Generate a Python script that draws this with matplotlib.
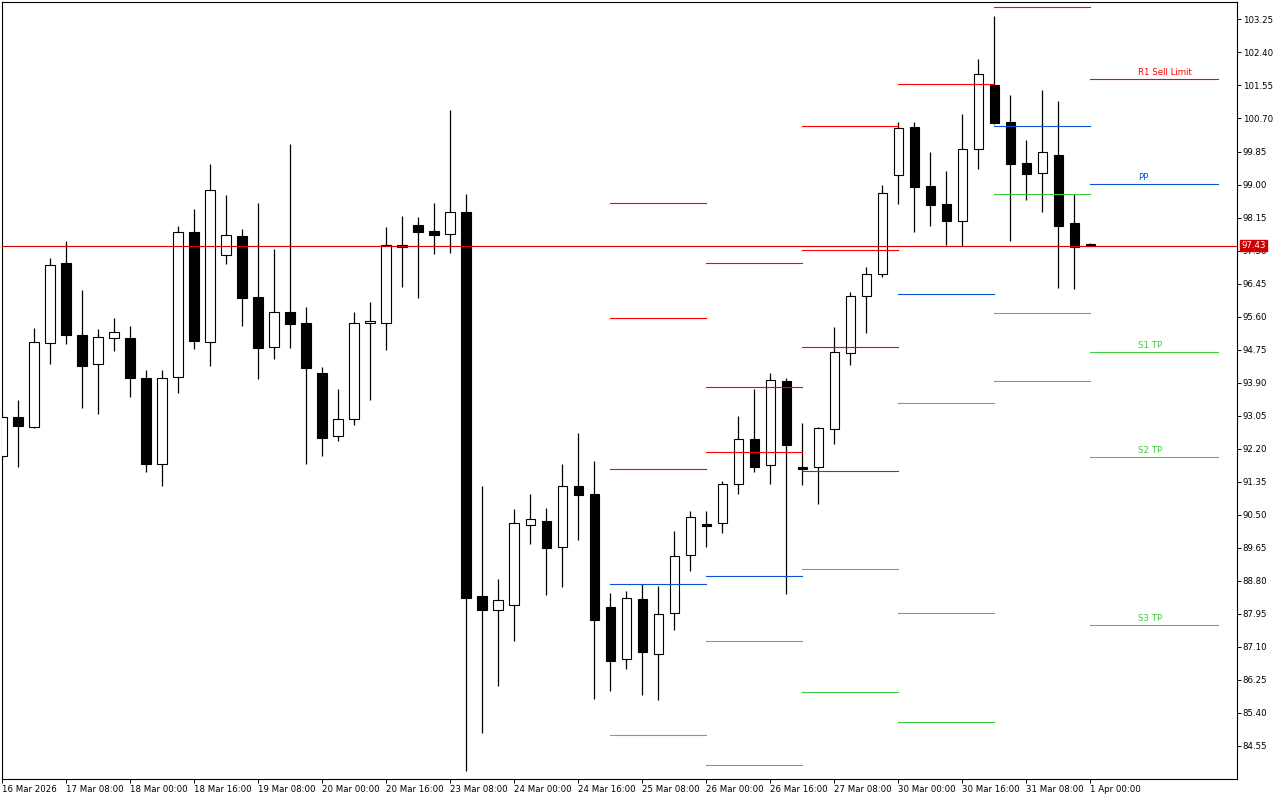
import matplotlib
matplotlib.use('Agg')
import matplotlib.pyplot as plt
from matplotlib.patches import Rectangle

# H4 bars, 16 Mar 16:00 ... 1 Apr 00:00
opens = [92.01, 93.01, 92.76, 94.92, 96.98, 95.13, 94.38, 95.05, 95.05, 94.02,
         91.80, 94.04, 97.78, 94.94, 97.18, 97.67, 96.10, 94.82, 95.72, 95.43,
         94.15, 92.53, 92.96, 95.43, 95.43, 97.44, 97.96, 97.80, 97.72, 98.29,
         88.41, 88.05, 88.17, 90.23, 90.34, 89.67, 91.24, 91.03, 88.12, 86.79,
         88.33, 86.91, 87.97, 89.46, 90.26, 90.29, 91.29, 92.45, 91.78, 93.94,
         91.73, 91.73, 92.71, 94.66, 96.13, 96.70, 99.24, 100.48, 98.96, 98.50,
         98.06, 99.91, 101.56, 100.61, 99.55, 99.29, 99.76, 98.01, 97.47]
highs = [93.14, 93.45, 95.30, 97.11, 97.54, 96.28, 95.28, 95.56, 95.36, 94.22,
         94.22, 97.93, 98.37, 99.53, 98.73, 97.85, 98.52, 97.34, 100.04, 95.85,
         94.30, 93.74, 95.72, 95.97, 97.91, 98.19, 98.16, 98.52, 100.92, 98.75,
         91.24, 88.84, 90.65, 91.03, 90.67, 91.80, 92.60, 91.88, 88.48, 88.54,
         88.72, 88.66, 90.08, 90.59, 90.59, 91.37, 93.04, 93.74, 94.15, 94.02,
         92.86, 92.76, 95.33, 96.23, 96.88, 98.99, 100.61, 100.61, 99.84, 99.35,
         100.81, 102.23, 103.34, 101.30, 100.14, 101.43, 101.15, 98.75, 97.50]
lows = [91.91, 91.73, 92.73, 94.38, 94.89, 93.25, 93.09, 94.71, 93.53, 91.60,
        91.24, 93.63, 94.76, 94.33, 96.95, 95.36, 93.99, 94.51, 94.79, 91.80,
        92.01, 92.40, 92.81, 93.45, 94.74, 96.36, 96.08, 97.21, 97.24, 83.90,
        84.88, 86.09, 87.25, 89.75, 88.43, 88.64, 89.85, 85.76, 85.96, 86.53,
        85.86, 85.73, 87.53, 89.05, 89.67, 90.03, 91.03, 91.60, 91.29, 88.46,
        91.26, 90.78, 92.32, 94.35, 95.18, 96.62, 98.50, 97.78, 97.93, 97.44,
        97.42, 99.40, 100.56, 97.54, 98.60, 98.29, 96.33, 96.31, 97.42]
closes = [93.01, 92.78, 94.94, 96.93, 95.13, 94.33, 95.07, 95.20, 94.02, 91.80,
          94.02, 97.78, 94.97, 98.86, 97.70, 96.08, 94.79, 95.72, 95.41, 94.28,
          92.47, 92.96, 95.43, 95.49, 97.44, 97.39, 97.78, 97.70, 98.29, 88.36,
          88.05, 88.30, 90.29, 90.39, 89.64, 91.24, 91.01, 87.79, 86.73, 88.36,
          86.97, 87.94, 89.44, 90.44, 90.21, 91.29, 92.45, 91.73, 93.97, 92.29,
          91.68, 92.73, 94.69, 96.13, 96.70, 98.78, 100.45, 98.94, 98.47, 98.06,
          99.91, 101.84, 100.58, 99.53, 99.27, 99.84, 97.93, 97.40, 97.43]

x_labels = ['16 Mar 2026', '17 Mar 08:00', '18 Mar 00:00', '18 Mar 16:00',
            '19 Mar 08:00', '20 Mar 00:00', '20 Mar 16:00', '23 Mar 08:00',
            '24 Mar 00:00', '24 Mar 16:00', '25 Mar 08:00', '26 Mar 00:00',
            '26 Mar 16:00', '27 Mar 08:00', '30 Mar 00:00', '30 Mar 16:00',
            '31 Mar 08:00', '1 Apr 00:00']
y_ticks = [84.55, 85.40, 86.25, 87.10, 87.95, 88.80, 89.65, 90.50, 91.35, 92.20,
           93.05, 93.90, 94.75, 95.60, 96.45, 97.30, 98.15, 99.00, 99.85, 100.70,
           101.55, 102.40, 103.25]

# first bar of each day that gets daily pivot lines (6 bars per day)
pivot_day_starts = [38, 44, 50, 56, 62, 68]
level_texts = {'R1': 'R1 Sell Limit', 'PP': 'PP', 'S1': 'S1 TP', 'S2': 'S2 TP', 'S3': 'S3 TP'}

RED = '#ff0000'
BLUE = '#0a50d8'
GREEN = '#3ccc3c'
FONT = 'DejaVu Sans'
FS = 6.2

fig = plt.figure(figsize=(12.8, 8), dpi=100)
ax = fig.add_axes([2 / 1280, 21 / 800, 1235 / 1280, 776.7 / 800])
ax.set_xlim(-0.0125, 77.16)
ax.set_ylim(83.70, 103.69)

# candles
w = 0.6
for i in range(len(opens)):
    o, h, l, c = opens[i], highs[i], lows[i], closes[i]
    ax.plot([i, i], [l, h], color='black', lw=0.9, zorder=2, solid_capstyle='butt')
    bottom = min(o, c)
    height = max(abs(c - o), 0.02)
    face = 'white' if c > o else 'black'
    ax.add_patch(Rectangle((i - w / 2, bottom), w, height, facecolor=face,
                           edgecolor='black', lw=0.8, zorder=3))

# daily classic pivots
for n, s in enumerate(pivot_day_starts):
    H = max(highs[s - 6:s])
    L = min(lows[s - 6:s])
    C = closes[s - 1]
    pp = (H + L + C) / 3
    levels = {
        'R3': (H + 2 * (pp - L), RED),
        'R2': (pp + (H - L), RED),
        'R1': (2 * pp - L, RED),
        'PP': (pp, BLUE),
        'S1': (2 * pp - H, GREEN),
        'S2': (pp - (H - L), GREEN),
        'S3': (L - 2 * (H - pp), GREEN),
    }
    last = n == len(pivot_day_starts) - 1
    end = 76 if last else s + 6
    for name, (val, col) in levels.items():
        ax.plot([s, end], [val, val], color=col, lw=0.8, zorder=4)
        if last and name in level_texts and 83.70 < val < 103.69:
            ax.annotate(level_texts[name], xy=(71, val), xytext=(0, 1.5),
                        textcoords='offset points', ha='left', va='bottom',
                        color=col, fontsize=FS, family=FONT, zorder=5)

# current price line and label
price = closes[-1]
ax.axhline(price, color='#d80000', lw=0.8, zorder=4)
ax.annotate(f'{price:.2f}', xy=(1.0, price), xycoords=('axes fraction', 'data'),
            xytext=(3.2, 0), textcoords='offset points', ha='left', va='center',
            color='white', fontsize=FS, family=FONT, annotation_clip=False,
            bbox=dict(boxstyle='square,pad=0.15', fc='#cc0000', ec='#cc0000'),
            zorder=10)

# axes styling
for sp in ax.spines.values():
    sp.set_color('black')
    sp.set_linewidth(0.8)
ax.yaxis.tick_right()
ax.set_yticks(y_ticks)
ax.set_yticklabels([f'{v:.2f}' for v in y_ticks], family=FONT, fontsize=FS)
ax.tick_params(axis='y', direction='out', length=3, width=0.7, pad=1, colors='black')
ax.set_xticks(range(0, 4 * len(x_labels), 4))
ax.set_xticklabels(x_labels, ha='left', family=FONT, fontsize=FS)
ax.tick_params(axis='x', direction='out', length=3, width=0.7, pad=1.5, colors='black')

fig.savefig('out.png', dpi=100, facecolor='white')
